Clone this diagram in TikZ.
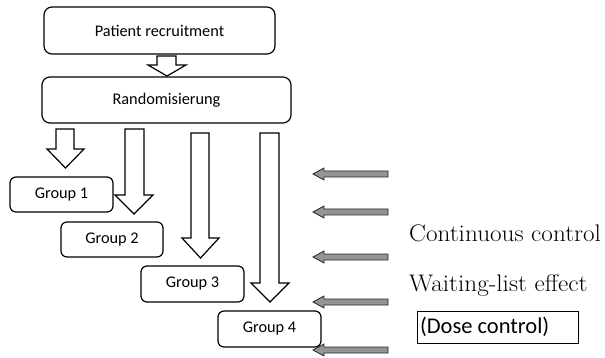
\documentclass[tikz,border=0pt]{standalone}
\usepackage{fontspec}
\setsansfont{Carlito}
\newfontfamily\notefont{Latin Modern Roman}[FakeStretch=1.05]
\begin{document}
\begin{tikzpicture}[x=1pt,y=-1pt,
  stage/.style={draw,line width=1.2pt,rounded corners=8pt,fill=white,
    font=\sffamily\fontsize{16.3}{18}\selectfont,inner sep=0pt},
  groupbox/.style={stage,rounded corners=6pt},
  flow/.style={draw,line width=1.2pt,fill=white,line join=miter},
  control/.style={draw=black!85,line width=0.8pt,fill=black!42},
  note/.style={font=\notefont\fontsize{24}{27}\selectfont,anchor=base west,inner sep=0pt}]
\useasboundingbox (0,0) rectangle (605,358);

% stage boxes
\node[stage,minimum width=231pt,minimum height=47pt] (recruit) at (159.5,30.5) {Patient recruitment};
\node[stage,minimum width=249pt,minimum height=46pt] (random) at (166.5,100) {Randomisierung};
\node[groupbox,minimum width=103pt,minimum height=35pt] (g1) at (61.5,194.5) {Group 1};
\node[groupbox,minimum width=102pt,minimum height=35pt] (g2) at (112,239.5) {Group 2};
\node[groupbox,minimum width=103pt,minimum height=36pt] (g3) at (192.5,284) {Group 3};
\node[groupbox,minimum width=103pt,minimum height=36pt] (g4) at (269.5,329) {Group 4};

% hollow block arrow pointing down:
% #1 shaft left, #2 shaft right, #3 top, #4 head start, #5 head left, #6 head right, #7 tip
\newcommand\blockdown[7]{%
  \path[flow] (#1,#3) -- (#2,#3) -- (#2,#4) -- (#6,#4) -- ({(#5+#6)/2},#7)
    -- (#5,#4) -- (#1,#4) -- cycle;}

\blockdown{157}{176}{56}{65}{148}{186}{76}
\blockdown{56}{74}{129}{149}{47}{84}{168}
\blockdown{125}{144}{129}{195}{115}{153}{214}
\blockdown{191}{209}{133}{238}{182}{219}{258}
\blockdown{260}{279}{133}{283}{251}{289}{302}

% grey arrows pointing left at the given height
\newcommand\blockleft[1]{%
  \path[control] (313,#1) -- (324,#1-6) -- (324,#1-3) -- (388,#1-3)
    -- (388,#1+3) -- (324,#1+3) -- (324,#1+6) -- cycle;}

\blockleft{174}
\blockleft{212}
\blockleft{257}
\blockleft{302}
\blockleft{350}

% control labels
\node[note] (cont) at (409,241) {Continuous control};
\node[note] (wait) at (409,291) {Waiting-list effect};
\node[draw,line width=1pt,minimum width=161pt,minimum height=32pt,inner sep=0pt,
  font=\sffamily\fontsize{22.5}{25}\selectfont] (dose) at (497.5,327)
  {\makebox[155pt][l]{(Dose control)}};
\end{tikzpicture}
\end{document}
